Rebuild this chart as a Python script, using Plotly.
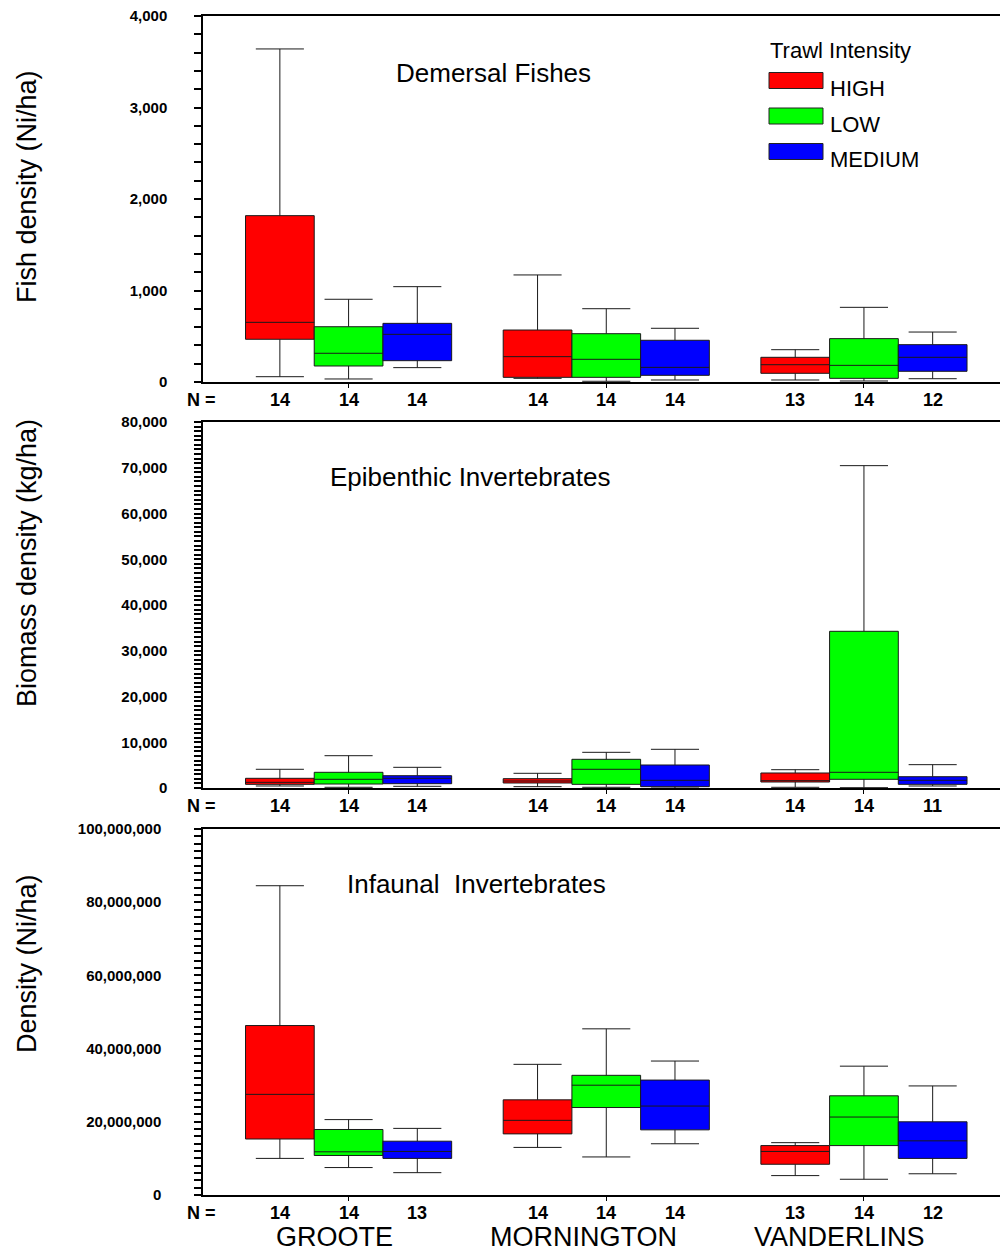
import plotly.graph_objects as go

FONT = "Liberation Sans, Arial, Helvetica, sans-serif"

sites = ["GROOTE", "MORNINGTON", "VANDERLINS"]
intensities = ["HIGH", "LOW", "MEDIUM"]
fill_colors = {"HIGH": "#FF0000", "LOW": "#00FF00", "MEDIUM": "#0000FF"}

# ---- Demersal fishes: Fish density (Ni/ha) ----
fish_lower = {"HIGH": [58, 40, 22], "LOW": [33, 8, 11], "MEDIUM": [157, 22, 36]}
fish_q1 = {"HIGH": [467, 51, 95], "LOW": [175, 51, 40], "MEDIUM": [233, 73, 117]}
fish_median = {"HIGH": [652, 277, 189], "LOW": [314, 248, 182], "MEDIUM": [521, 160, 270]}
fish_q3 = {"HIGH": [1818, 568, 270], "LOW": [604, 528, 474], "MEDIUM": [641, 456, 408]}
fish_upper = {"HIGH": [3640, 1170, 353], "LOW": [904, 801, 816], "MEDIUM": [1042, 587, 546]}
fish_n = {"HIGH": [14, 14, 13], "LOW": [14, 14, 14], "MEDIUM": [14, 14, 12]}

# ---- Epibenthic invertebrates: Biomass density (kg/ha) ----
epi_lower = {"HIGH": [440, 290, 150], "LOW": [150, 150, 70], "MEDIUM": [370, 0, 440]}
epi_q1 = {"HIGH": [800, 1090, 1310], "LOW": [870, 800, 1900], "MEDIUM": [940, 290, 800]}
epi_median = {"HIGH": [1240, 1530, 1600], "LOW": [1900, 4090, 3430], "MEDIUM": [2120, 1680, 1680]}
epi_q3 = {"HIGH": [2120, 2040, 3280], "LOW": [3430, 6270, 34250], "MEDIUM": [2690, 5030, 2470]}
epi_upper = {"HIGH": [4090, 3210, 4000], "LOW": [7060, 7800, 70460], "MEDIUM": [4520, 8460, 5100]}
epi_n = {"HIGH": [14, 14, 14], "LOW": [14, 14, 14], "MEDIUM": [14, 14, 11]}

# ---- Infaunal invertebrates: Density (Ni/ha) ----
inf_lower = {"HIGH": [10.0e6, 13.0e6, 5.3e6], "LOW": [7.5e6, 10.4e6, 4.3e6], "MEDIUM": [6.1e6, 14.0e6, 5.8e6]}
inf_q1 = {"HIGH": [15.3e6, 16.7e6, 8.4e6], "LOW": [10.8e6, 23.9e6, 13.5e6], "MEDIUM": [10.0e6, 17.8e6, 10.0e6]}
inf_median = {"HIGH": [27.5e6, 20.4e6, 11.9e6], "LOW": [11.8e6, 30.0e6, 21.3e6], "MEDIUM": [11.9e6, 24.3e6, 14.8e6]}
inf_q3 = {"HIGH": [46.3e6, 26.0e6, 13.5e6], "LOW": [17.9e6, 32.7e6, 27.1e6], "MEDIUM": [14.7e6, 31.4e6, 20.0e6]}
inf_upper = {"HIGH": [84.5e6, 35.7e6, 14.3e6], "LOW": [20.6e6, 45.4e6, 35.2e6], "MEDIUM": [18.2e6, 36.6e6, 29.8e6]}
inf_n = {"HIGH": [14, 14, 13], "LOW": [14, 14, 14], "MEDIUM": [13, 14, 12]}

panel_titles = ["Demersal Fishes", "Epibenthic Invertebrates", "Infaunal\u00a0 Invertebrates"]
y_titles = ["Fish density (Ni/ha)", "Biomass density (kg/ha)", "Density (Ni/ha)"]
y_ranges = [[0, 4000], [0, 80000], [0, 100000000]]
y_major = [1000, 10000, 20000000]
y_minor = [200, 1000, 2000000]
legend_title = "Trawl Intensity"

panels = [
    (fish_lower, fish_q1, fish_median, fish_q3, fish_upper, fish_n),
    (epi_lower, epi_q1, epi_median, epi_q3, epi_upper, epi_n),
    (inf_lower, inf_q1, inf_median, inf_q3, inf_upper, inf_n),
]

# ---- page geometry (pixels) ----
W, H = 1000, 1251
ML, MR, MT, MB = 203, 0, 16, 56
PW, PH = W - ML - MR, H - MT - MB


def px_x(px):
    return (px - ML) / PW


def px_y(py):
    return (H - MB - py) / PH


panel_px = [(16, 382), (422, 788), (829, 1195)]  # (top, bottom) of each plot area
domains = [[px_y(b), px_y(t)] for t, b in panel_px]

BOXGAP = 0.2
box_w = (1 - BOXGAP) / len(intensities)

fig = go.Figure()
annotations = []
shapes = []

for p, (lo, q1, med, q3, up, n) in enumerate(panels):
    sfx = "" if p == 0 else str(p + 1)
    for i, name in enumerate(intensities):
        fig.add_trace(go.Box(
            x=sites, lowerfence=lo[name], q1=q1[name], median=med[name],
            q3=q3[name], upperfence=up[name],
            name=name, offsetgroup=name, fillcolor=fill_colors[name],
            line=dict(color="#1a1a1a", width=1), whiskerwidth=0.7,
            xaxis="x" + sfx, yaxis="y" + sfx, showlegend=False,
        ))
        # N labels under each box
        for j, site in enumerate(sites):
            annotations.append(dict(
                x=j + (i - 1) * box_w, xref="x" + sfx,
                y=domains[p][0], yref="paper", yshift=-18,
                text=str(n[name][j]), showarrow=False,
                xanchor="center", yanchor="middle",
                font=dict(family=FONT, size=18, color="black", weight="bold"),
            ))
    annotations.append(dict(
        x=px_x(201), xref="paper", y=domains[p][0], yref="paper", yshift=-18,
        text="N =", showarrow=False, xanchor="center", yanchor="middle",
        font=dict(family=FONT, size=18, color="black", weight="bold"),
    ))
    # y-axis title
    ycent = [187, 563, 964][p]
    annotations.append(dict(
        x=px_x(27), xref="paper", y=px_y(ycent), yref="paper",
        text=y_titles[p], textangle=-90, showarrow=False,
        xanchor="center", yanchor="middle",
        font=dict(family=FONT, size=27, color="black"),
    ))
    # panel title
    tx, ty = [(493, 73), (470, 477), (476, 884)][p]
    annotations.append(dict(
        x=px_x(tx), xref="paper", y=px_y(ty), yref="paper",
        text=panel_titles[p], showarrow=False, xanchor="center", yanchor="middle",
        font=dict(family=FONT, size=26, color="black"),
    ))

    lo_r, hi_r = y_ranges[p]
    fig.update_layout(**{
        "xaxis" + sfx: dict(
            domain=[0, 1], anchor="y" + sfx, type="category",
            categoryorder="array", categoryarray=sites,
            range=[-0.565, 2.528], showline=True, linecolor="black", linewidth=2,
            mirror=True, ticks="outside", ticklen=4, tickwidth=1, tickcolor="black",
            showticklabels=False, showgrid=False, zeroline=False,
        ),
        "yaxis" + sfx: dict(
            domain=domains[p], anchor="x" + sfx, range=[lo_r, hi_r],
            tickmode="linear", tick0=0, dtick=y_major[p], tickformat=",",
            ticks="outside", ticklen=7, tickwidth=1.5, tickcolor="black",
            showline=True, linecolor="black", linewidth=1.5,
            showgrid=False, zeroline=False,
            ticklabelstandoff=30 if p == 2 else 24,
            tickfont=dict(family=FONT, size=15, color="black", weight="bold"),
            minor=dict(tick0=0, dtick=y_minor[p], ticks="outside", ticklen=7,
                       tickwidth=1.5, tickcolor="black", showgrid=False),
        ),
    })

# site names under bottom panel (slightly left of the group centres, as in the original)
site_label_shift = [-14, -23, -24]
for site, dx in zip(sites, site_label_shift):
    annotations.append(dict(
        x=site, xref="x3", y=0, yref="paper", yshift=-42, xshift=dx,
        text=site, showarrow=False, xanchor="center", yanchor="middle",
        font=dict(family=FONT, size=27, color="black"),
    ))

# legend (drawn manually to match the large swatches)
annotations.append(dict(
    x=px_x(768), xref="paper", y=px_y(50), yref="paper",
    text=legend_title, showarrow=False, xanchor="left", yanchor="middle",
    font=dict(family=FONT, size=22, color="black"),
))
for i, name in enumerate(intensities):
    top = 72.5 + 35.5 * i
    shapes.append(dict(
        type="rect", xref="paper", yref="paper",
        x0=px_x(769), x1=px_x(823), y0=px_y(top + 16), y1=px_y(top),
        fillcolor=fill_colors[name], line=dict(color="#222", width=1),
    ))
    annotations.append(dict(
        x=px_x(828), xref="paper", y=px_y(top + 16), yref="paper",
        text=name, showarrow=False, xanchor="left", yanchor="middle",
        font=dict(family=FONT, size=22, color="black"),
    ))

fig.update_layout(
    width=W, height=H,
    margin=dict(l=ML, r=MR, t=MT, b=MB),
    paper_bgcolor="white", plot_bgcolor="white",
    boxmode="group", boxgap=BOXGAP, boxgroupgap=0,
    showlegend=False,
    annotations=annotations, shapes=shapes,
    font=dict(family=FONT, color="black"),
)

fig.write_html("out.html")
